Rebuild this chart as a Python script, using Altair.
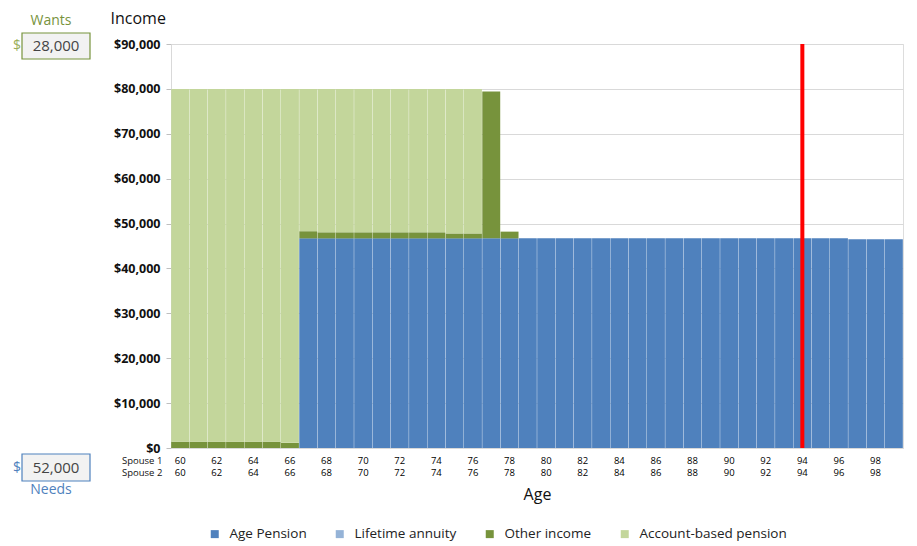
import altair as alt
import pandas as pd

# ---- data ----
ages = list(range(60, 100))
series_names = ["Age Pension", "Lifetime annuity", "Other income", "Account-based pension"]
series_colors = ["#4F81BD", "#95B3D7", "#77933C", "#C3D69B"]

age_pension = [0, 0, 0, 0, 0, 0, 0,
               46700, 46700, 46700, 46700, 46700, 46700, 46700, 46700, 46700, 46700,
               46700, 46700, 46700, 46700, 46700, 46700, 46700, 46700, 46700, 46700,
               46700, 46700, 46700, 46700, 46700, 46700, 46700, 46700, 46700, 46700,
               46500, 46500, 46500]
lifetime_annuity = [0] * 40
other_income = [1400, 1400, 1400, 1400, 1400, 1400, 1150,
                1600, 1350, 1350, 1350, 1350, 1350, 1350, 1350, 1100, 1100,
                32700, 1500, 0, 0, 0, 0, 0, 0, 0, 0,
                0, 0, 0, 0, 0, 0, 0, 0, 0, 0,
                0, 0, 0]
account_based = [78600, 78600, 78600, 78600, 78600, 78600, 78850,
                 31700, 31950, 31950, 31950, 31950, 31950, 31950, 31950, 32200, 32200,
                 0, 0, 0, 0, 0, 0, 0, 0, 0, 0,
                 0, 0, 0, 0, 0, 0, 0, 0, 0, 0,
                 0, 0, 0]
life_expectancy_age = 94
x_tick_values = list(range(60, 100, 2))
y_tick_values = list(range(0, 90001, 10000))
spouse_labels = ["Spouse 1", "Spouse 2"]
wants_value = "28,000"
needs_value = "52,000"

rows = []
for i, a in enumerate(ages):
    for k, (name, vals) in enumerate(zip(series_names,
                                         [age_pension, lifetime_annuity, other_income, account_based])):
        rows.append({"age": a, "series": name, "value": vals[i], "order": k})
df = pd.DataFrame(rows)

W, H = 732, 404
FONT = "Open Sans"
xscale = alt.Scale(domain=[59.5, 99.5], nice=False, zero=False)

color = alt.Color("series:N",
                  scale=alt.Scale(domain=series_names, range=series_colors),
                  legend=alt.Legend(title=None, orient="none", direction="horizontal",
                                    legendX=37, legendY=483, symbolType="square",
                                    symbolSize=64, symbolStrokeWidth=0,
                                    labelFontSize=13.5, labelFont=FONT, labelColor="#222",
                                    columnPadding=26, labelOffset=8))

bars = alt.Chart(df).transform_stack(
    stack="value", groupby=["age"], as_=["y0", "y1"],
    sort=[alt.SortField("order", order="ascending")]
).transform_calculate(
    xl="datum.age - 0.49", xr="datum.age + 0.49"
).mark_bar(opacity=1).encode(
    x=alt.X("xl:Q", scale=xscale,
            axis=alt.Axis(values=x_tick_values, labels=False,
                          ticks=False, grid=False, domainColor="#d9d9d9",
                          title="Age", titleFontSize=16, titleFontWeight="normal",
                          titleFont=FONT, titlePadding=38, titleColor="#111")),
    x2="xr:Q",
    y=alt.Y("y0:Q", scale=alt.Scale(domain=[0, 90000], nice=False),
            axis=alt.Axis(values=y_tick_values, format="$,.0f",
                          labelFontWeight="bold", labelFontSize=12.5, labelFont=FONT,
                          labelColor="#111", labelPadding=6,
                          tickSize=5, tickColor="#bfbfbf", domainColor="#d9d9d9",
                          gridColor="#d9d9d9",
                          title="Income", titleAngle=0, titleAlign="left",
                          titleBaseline="alphabetic", titleX=-61, titleY=-21,
                          titleFontSize=16, titleFontWeight="normal", titleFont=FONT,
                          titleColor="#111")),
    y2="y1:Q",
    color=color,
)

# two-row x tick labels (Spouse 1 / Spouse 2 ages)
tick_rows = []
for r, off in enumerate([12.5, 24.5]):
    for v in x_tick_values:
        tick_rows.append({"age": v, "t": str(v), "yy": H + off})
tick_df = pd.DataFrame(tick_rows)
tick_text = alt.Chart(tick_df).mark_text(
    align="center", baseline="middle", fontSize=9.5, font=FONT, color="#000"
).encode(x=alt.X("age:Q", scale=xscale), y=alt.Y("yy:Q", scale=None), text="t:N")

rule = alt.Chart(pd.DataFrame({"age": [life_expectancy_age]})).mark_rule(
    color="#ff0000", strokeWidth=4
).encode(x=alt.X("age:Q", scale=xscale), y=alt.value(0), y2=alt.value(H))

spouse = alt.Chart(pd.DataFrame({"t": spouse_labels, "yy": [H + 12.5, H + 24.5]})).mark_text(
    align="left", baseline="middle", fontSize=9.5, font=FONT, color="#111"
).encode(text="t:N", x=alt.value(-49), y=alt.Y("yy:Q", scale=None))

# Wants / Needs boxes
boxes = alt.Chart(pd.DataFrame({
    "x0": [-149, -149], "x1": [-81, -81], "y0": [-11, 410], "y1": [15, 437],
    "c": ["#77933C", "#4F81BD"]})).mark_rect(fill="#f2f2f2", strokeWidth=1.2).encode(
    x=alt.X("x0:Q", scale=None), x2="x1:Q",
    y=alt.Y("y0:Q", scale=None), y2="y1:Q",
    stroke=alt.Stroke("c:N", scale=None))

box_text = alt.Chart(pd.DataFrame({
    "t": [wants_value, needs_value], "xx": [-115, -115], "yy": [2, 423.5]})).mark_text(
    align="center", baseline="middle", fontSize=15, font=FONT, color="#444"
).encode(text="t:N", x=alt.X("xx:Q", scale=None), y=alt.Y("yy:Q", scale=None))

labels = alt.Chart(pd.DataFrame({
    "t": ["Wants", "$", "Needs", "$"],
    "xx": [-120, -154, -120, -154], "yy": [-23, 2, 446, 423.5],
    "c": ["#77933C", "#9aae5a", "#4F81BD", "#4F81BD"]})).mark_text(
    align="center", baseline="middle", fontSize=14, font=FONT
).encode(text="t:N", x=alt.X("xx:Q", scale=None), y=alt.Y("yy:Q", scale=None),
         color=alt.Color("c:N", scale=None))

chart = alt.layer(bars, tick_text, rule, spouse, boxes, box_text, labels).properties(
    width=W, height=H,
    autosize=alt.AutoSizeParams(type="none"),
    padding={"left": 171, "top": 44, "right": 14, "bottom": 98},
).configure_view(stroke="#d9d9d9").configure(background="white")

chart.save("out.html", embed_options={"renderer": "svg", "actions": False})
